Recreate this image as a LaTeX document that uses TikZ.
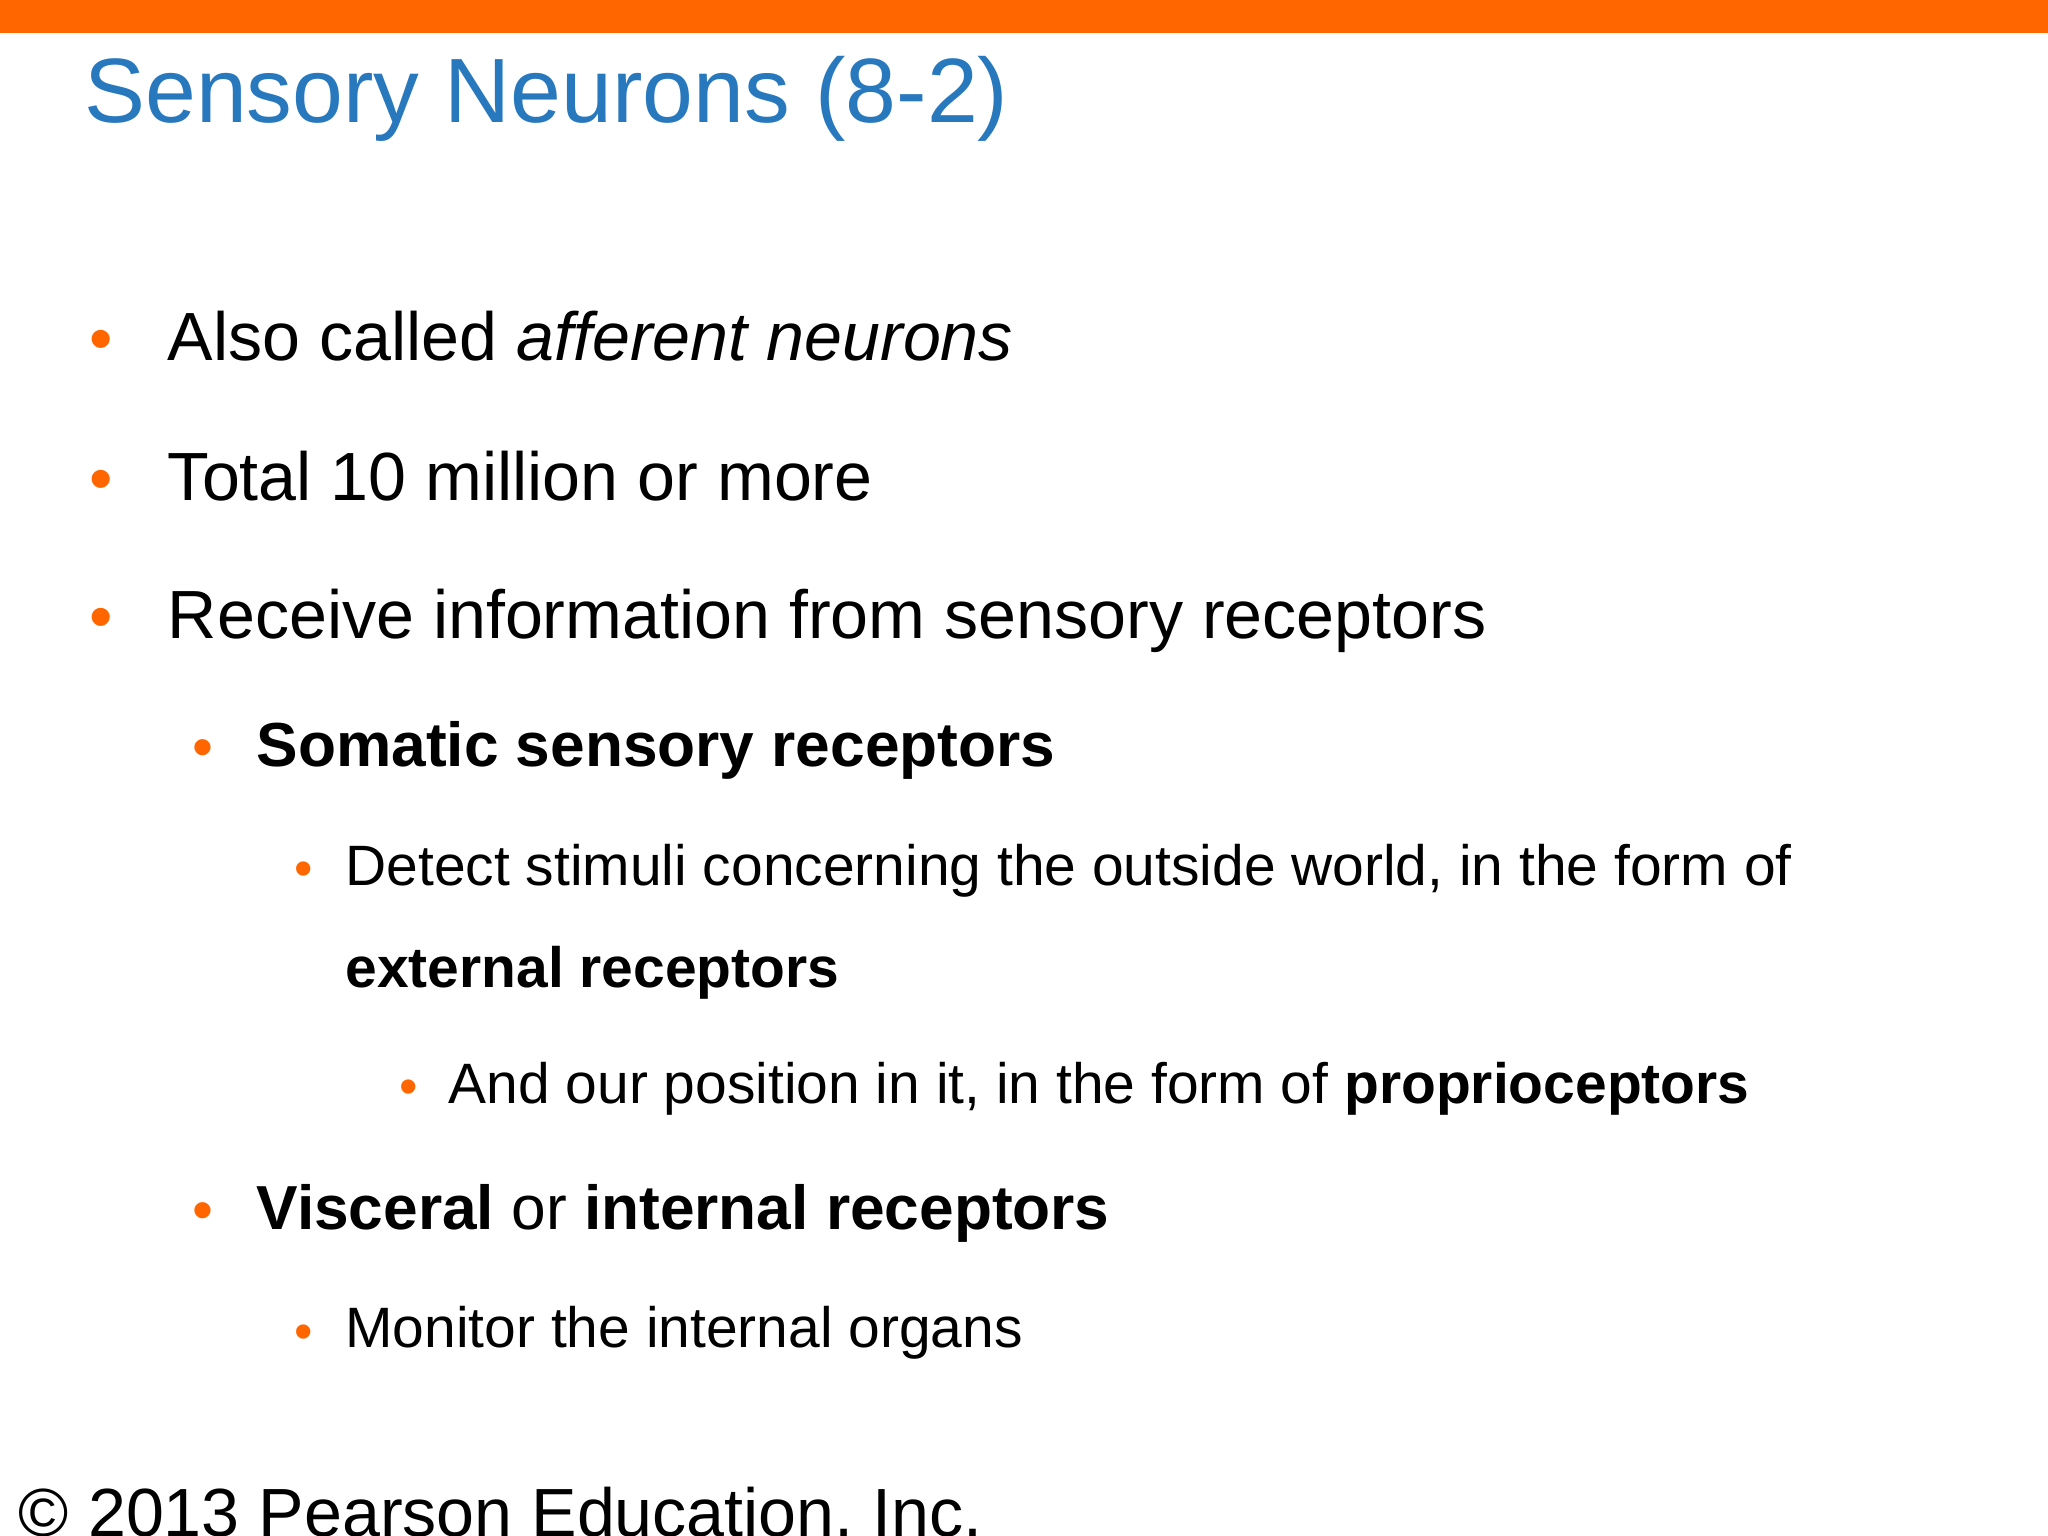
\documentclass[tikz,border=0pt]{standalone}
\usepackage{fontspec}
\setmainfont{Liberation Sans}
\definecolor{orng}{HTML}{FF6600}
\definecolor{ttl}{HTML}{2878BE}
\begin{document}
\begin{tikzpicture}[x=0.01306cm,y=-0.01306cm,
  txt/.style={anchor=base west,inner sep=0pt},
  bul/.style={anchor=base west,inner sep=0pt,text=orng}]
\useasboundingbox (0,0) rectangle (1568,1176);
\fill[orng] (0,0) rectangle (1568,25);
\node[txt,text=ttl,font=\fontsize{26}{30}\selectfont] (title) at (64,94) {Sensory Neurons (8-2)};
\node[bul,font=\fontsize{19}{24}\selectfont] (b1) at (68,277) {•};
\node[txt,font=\fontsize{19.4}{24}\selectfont] (t1) at (128,276) {Also called \textit{afferent neurons}};
\node[bul,font=\fontsize{19}{24}\selectfont] (b2) at (68,384) {•};
\node[txt,font=\fontsize{19.4}{24}\selectfont] (t2) at (128,383) {Total 10 million or more};
\node[bul,font=\fontsize{19}{24}\selectfont] (b3) at (68,490) {•};
\node[txt,font=\fontsize{19.4}{24}\selectfont] (t3) at (128,489) {Receive information from sensory receptors};
\node[bul,font=\fontsize{17}{20}\selectfont] (b4) at (147,588) {•};
\node[txt,font=\fontsize{17.7}{20}\selectfont] (t4) at (196,587) {\textbf{Somatic sensory receptors}};
\node[bul,font=\fontsize{15}{18}\selectfont] (b5) at (225,679) {•};
\node[txt,font=\fontsize{16.2}{18}\selectfont] (t5) at (264,678) {Detect stimuli concerning the outside world, in the form of};
\node[txt,font=\fontsize{16.2}{18}\selectfont] (t6) at (264,756) {\textbf{external receptors}};
\node[bul,font=\fontsize{15}{18}\selectfont] (b7) at (305,846) {•};
\node[txt,font=\fontsize{16.2}{18}\selectfont] (t7) at (343,845) {And our position in it, in the form of \textbf{proprioceptors}};
\node[bul,font=\fontsize{17}{20}\selectfont] (b8) at (147,942) {•};
\node[txt,font=\fontsize{17.7}{20}\selectfont] (t8) at (196,941) {\textbf{Visceral} or \textbf{internal receptors}};
\node[bul,font=\fontsize{15}{18}\selectfont] (b9) at (225,1033) {•};
\node[txt,font=\fontsize{16.2}{18}\selectfont] (t9) at (264,1032) {Monitor the internal organs};
\node[txt,font=\fontsize{19.4}{24}\selectfont] (foot) at (14,1176) {© 2013 Pearson Education, Inc.};
\end{tikzpicture}
\end{document}
